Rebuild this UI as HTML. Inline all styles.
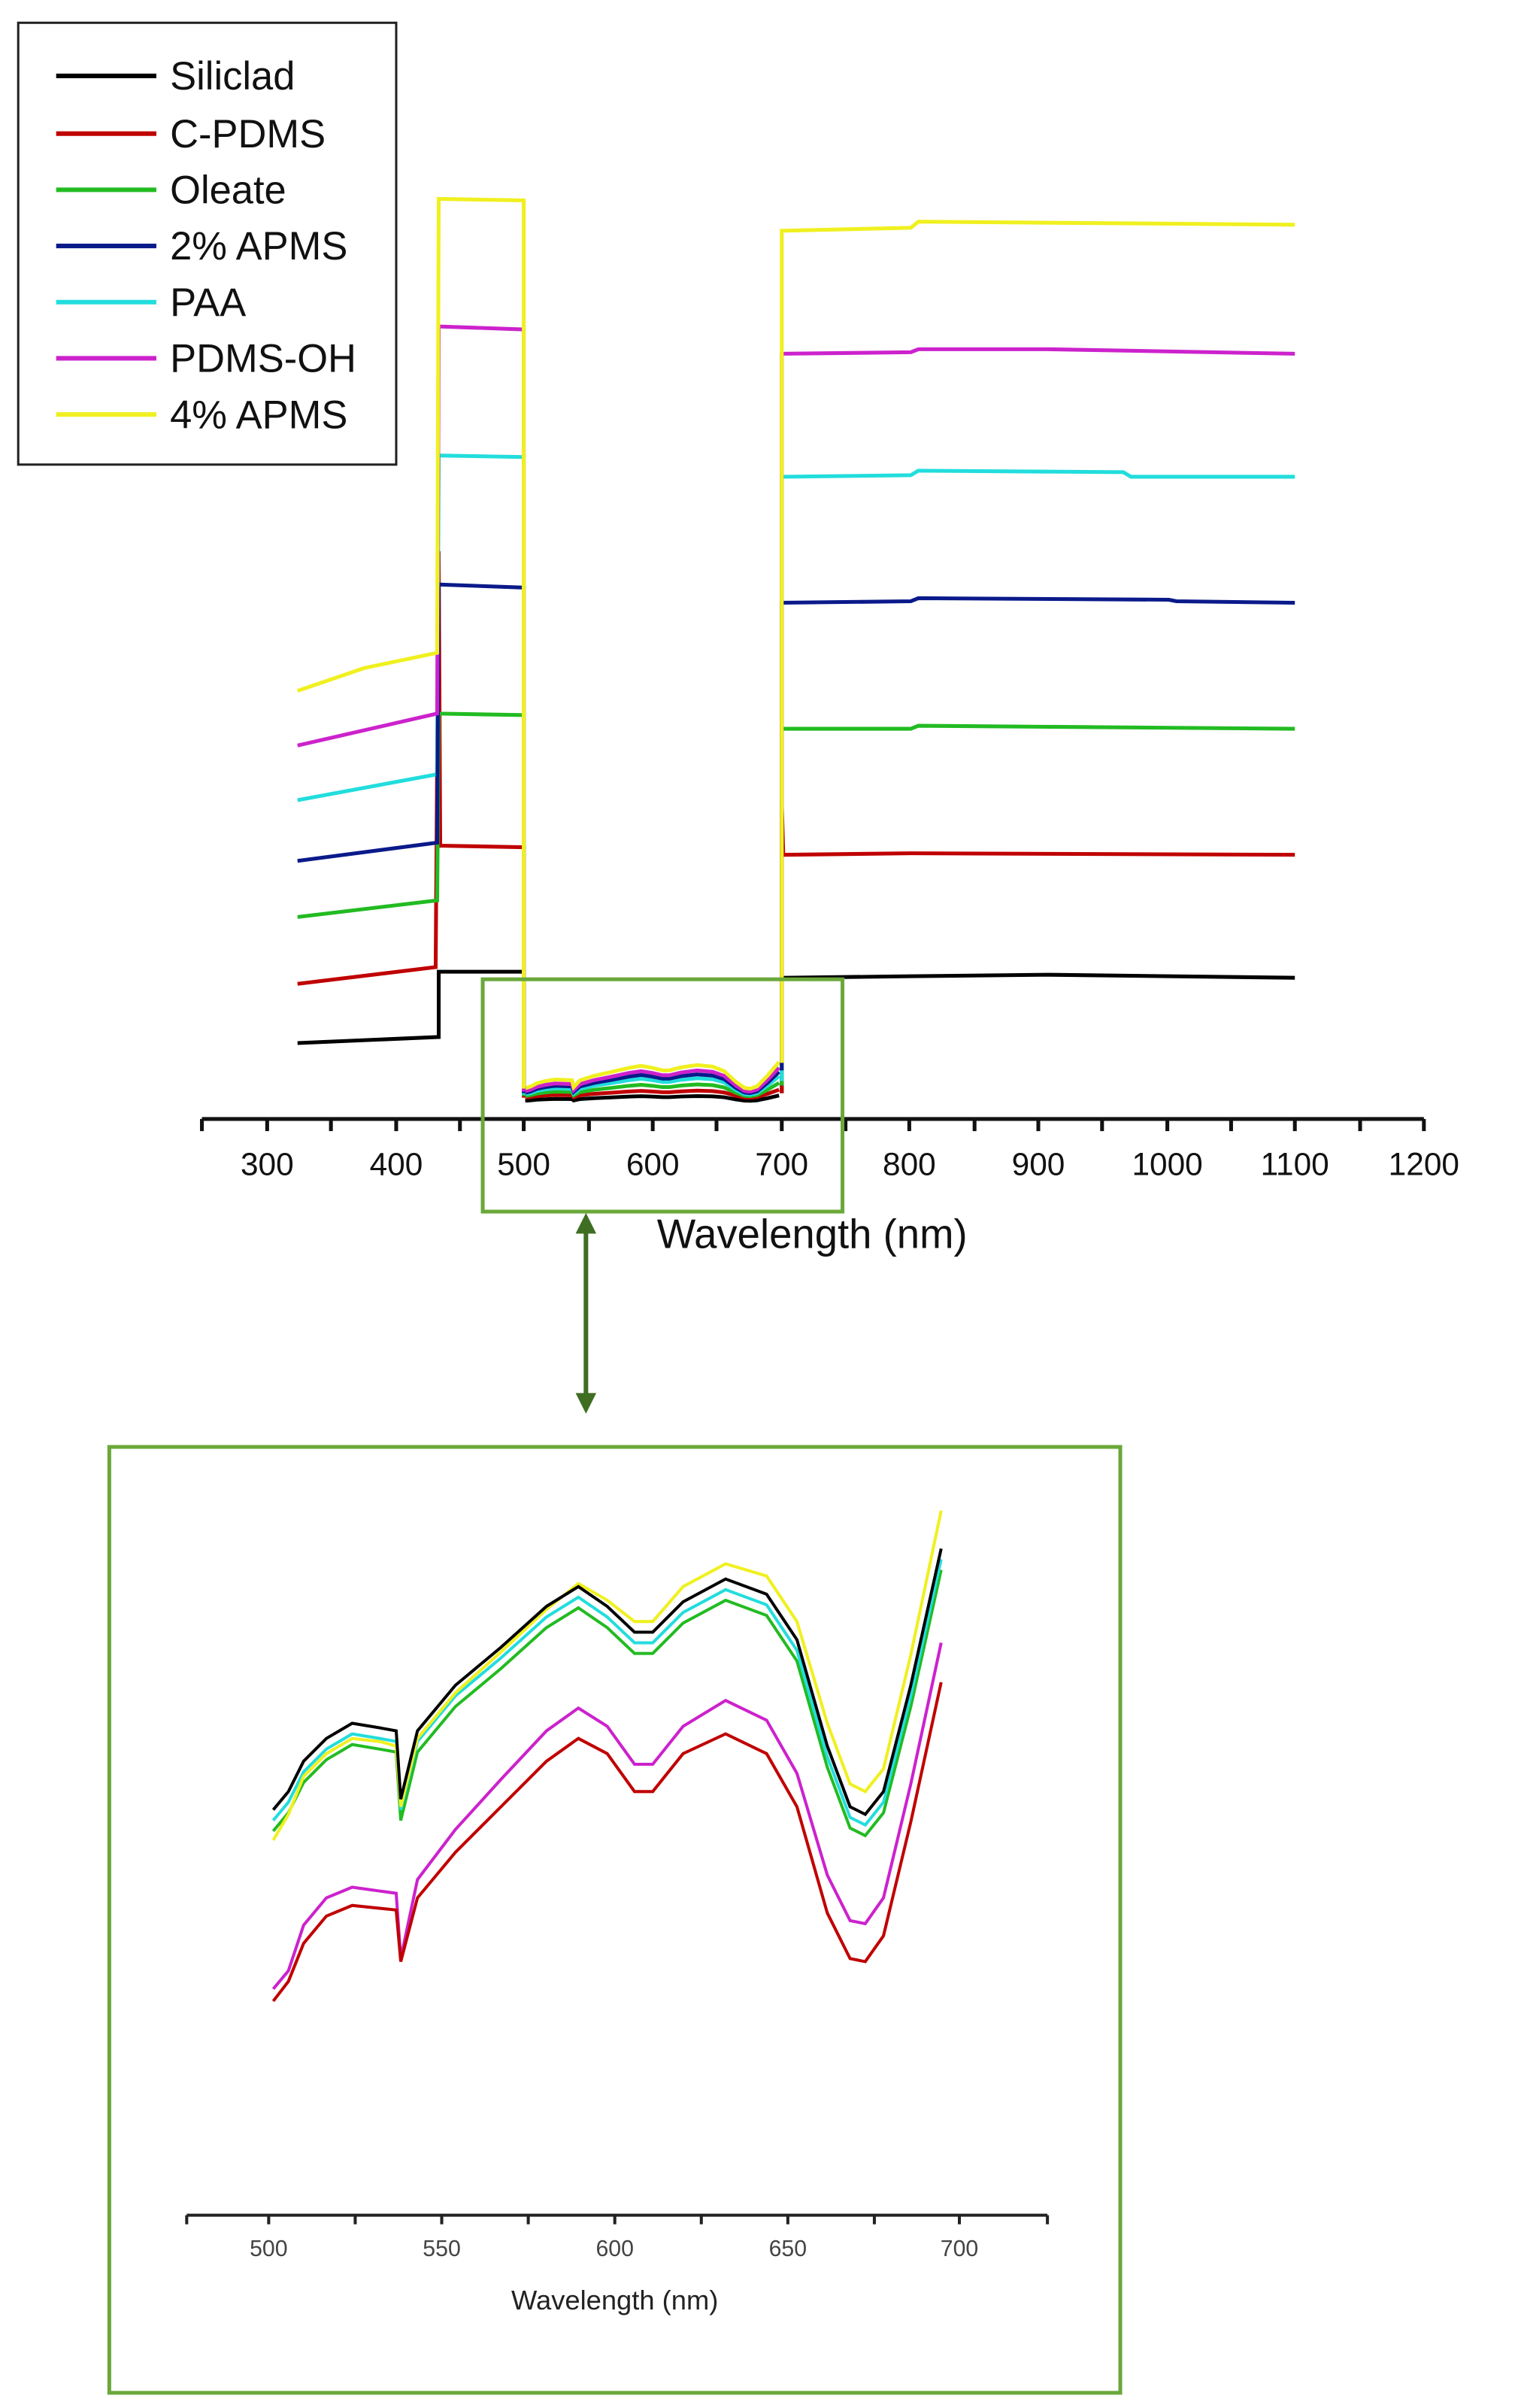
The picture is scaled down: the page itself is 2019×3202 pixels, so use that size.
<!DOCTYPE html>
<html><head><meta charset="utf-8"><style>
html,body{margin:0;padding:0;background:#fff;}
svg{display:block;}
text{font-family:"Liberation Sans",Arial,sans-serif;}
</style></head><body>
<svg width="2019" height="3202" viewBox="0 0 1000 1586" preserveAspectRatio="none" xmlns="http://www.w3.org/2000/svg">
<defs>
<polyline id="shp" fill="none" vector-effect="non-scaling-stroke" points="180,1192 190,1180 200,1160 215,1145 232,1135 250,1138 261,1140 264,1185 275,1140 300,1110 330,1085 360,1058 381,1045 400,1058 418,1075 430,1075 450,1055 478,1040 505,1050 525,1080 545,1150 560,1190 570,1195 582,1180 600,1110 620,1020"/>
</defs>
<!-- legend -->
<rect x="12" y="15" width="249" height="291" fill="#fff" stroke="#222" stroke-width="1.5"/>
<g stroke-width="3">
<line x1="37" y1="50" x2="103" y2="50" stroke="#000"/>
<line x1="37" y1="88" x2="103" y2="88" stroke="#c00000"/>
<line x1="37" y1="125" x2="103" y2="125" stroke="#22bb22"/>
<line x1="37" y1="162" x2="103" y2="162" stroke="#0a1a8a"/>
<line x1="37" y1="199" x2="103" y2="199" stroke="#22dddd"/>
<line x1="37" y1="236" x2="103" y2="236" stroke="#cc22cc"/>
<line x1="37" y1="273" x2="103" y2="273" stroke="#f0f020"/>
</g>
<g font-size="26" fill="#111">
<text x="112" y="59">Siliclad</text>
<text x="112" y="97">C-PDMS</text>
<text x="112" y="134">Oleate</text>
<text x="112" y="171">2% APMS</text>
<text x="112" y="208">PAA</text>
<text x="112" y="245">PDMS-OH</text>
<text x="112" y="282">4% APMS</text>
</g>
<!-- main series -->
<g fill="none" stroke-width="2.5">
<g transform="translate(346,0) scale(0.38,1) translate(-180,0)" stroke-width="5">
<use href="#shp" stroke="#000" transform="translate(0,725) scale(1,0.02) translate(0,-1195)"/>
<use href="#shp" stroke="#c00000" transform="translate(0,723) scale(1,0.03) translate(0,-1195)"/>
<use href="#shp" stroke="#22bb22" transform="translate(0,722) scale(1,0.05) translate(0,-1195)"/>
<use href="#shp" stroke="#22dddd" transform="translate(0,721) scale(1,0.07) translate(0,-1195)"/>
<use href="#shp" stroke="#0a1a8a" transform="translate(0,720) scale(1,0.08) translate(0,-1195)"/>
<use href="#shp" stroke="#cc22cc" transform="translate(0,719) scale(1,0.09) translate(0,-1195)"/>
<use href="#shp" stroke="#f0f020" transform="translate(0,717) scale(1,0.1) translate(0,-1195)"/>
</g>
<polyline stroke="#000" points="196,687 289,683 289,640 345,640 345,722"/>
<polyline stroke="#000" points="515,720 515,644 600,643 690,642 853,644"/>
<polyline stroke="#c00000" points="196,648 287,637 289,363 290,557 345,558 345,723"/>
<polyline stroke="#c00000" points="515,720 515,528 516,563 600,562 853,563"/>
<polyline stroke="#22bb22" points="196,604 288,593 289,470 345,471 345,722"/>
<polyline stroke="#22bb22" points="515,715 515,480 600,480 605,478 853,480"/>
<polyline stroke="#22dddd" points="196,527 288,510 289,300 345,301 345,721"/>
<polyline stroke="#22dddd" points="515,712 515,314 600,313 605,310 740,311 745,314 853,314"/>
<polyline stroke="#0a1a8a" points="196,567 288,555 289,385 345,387 345,720"/>
<polyline stroke="#0a1a8a" points="515,705 515,397 600,396 605,394 770,395 775,396 853,397"/>
<polyline stroke="#cc22cc" points="196,491 288,470 289,215 345,217 345,719"/>
<polyline stroke="#cc22cc" points="515,700 515,233 600,232 605,230 690,230 853,233"/>
<polyline stroke="#f0f020" points="196,455 240,440 288,430 289,131 345,132 345,717"/>
<polyline stroke="#f0f020" points="515,700 515,152 600,150 605,146 853,148"/>
</g>
<!-- main axis -->
<g stroke="#111" stroke-width="2.5">
<line x1="133" y1="737" x2="938" y2="737"/>
<line x1="133" y1="737" x2="133" y2="745"/><line x1="176" y1="737" x2="176" y2="745"/><line x1="218" y1="737" x2="218" y2="745"/><line x1="261" y1="737" x2="261" y2="745"/><line x1="303" y1="737" x2="303" y2="745"/><line x1="345" y1="737" x2="345" y2="745"/><line x1="388" y1="737" x2="388" y2="745"/><line x1="430" y1="737" x2="430" y2="745"/><line x1="472" y1="737" x2="472" y2="745"/><line x1="515" y1="737" x2="515" y2="745"/><line x1="557" y1="737" x2="557" y2="745"/><line x1="599" y1="737" x2="599" y2="745"/><line x1="642" y1="737" x2="642" y2="745"/><line x1="684" y1="737" x2="684" y2="745"/><line x1="726" y1="737" x2="726" y2="745"/><line x1="769" y1="737" x2="769" y2="745"/><line x1="811" y1="737" x2="811" y2="745"/><line x1="853" y1="737" x2="853" y2="745"/><line x1="896" y1="737" x2="896" y2="745"/><line x1="938" y1="737" x2="938" y2="745"/>
</g>
<g font-size="21" fill="#111" text-anchor="middle">
<text x="176" y="774">300</text><text x="261" y="774">400</text><text x="345" y="774">500</text><text x="430" y="774">600</text><text x="515" y="774">700</text><text x="599" y="774">800</text><text x="684" y="774">900</text><text x="769" y="774">1000</text><text x="853" y="774">1100</text><text x="938" y="774">1200</text>
</g>
<text x="535" y="822" font-size="27" fill="#111" text-anchor="middle">Wavelength (nm)</text>
<!-- zoom box and arrow -->
<rect x="318" y="645" width="237" height="153" fill="none" stroke="#6aa83a" stroke-width="2.5"/>
<g stroke="#3f6e22" fill="#3f6e22">
<line x1="386" y1="808" x2="386" y2="922" stroke-width="3"/>
<polygon points="380,812 392,812 386,800"/>
<polygon points="380,918 392,918 386,930"/>
</g>
<!-- inset -->
<rect x="72" y="953" width="666" height="623" fill="none" stroke="#6aa83a" stroke-width="2.5"/>
<g fill="none" stroke-width="2">
<use href="#shp" stroke="#22bb22" stroke-width="4" transform="translate(0,14)"/>
<use href="#shp" stroke="#22dddd" stroke-width="4" transform="translate(0,7)"/>
<polyline stroke="#f0f020" points="180,1212 190,1195 200,1170 215,1155 232,1145 250,1147 261,1150 264,1190 275,1145 300,1115 330,1088 360,1060 381,1043 400,1054 418,1068 430,1068 450,1045 478,1030 505,1038 525,1068 545,1135 560,1175 570,1180 582,1165 600,1090 620,995"/>
<use href="#shp" stroke="#000" stroke-width="4"/>
<polyline stroke="#cc22cc" points="180,1310 190,1298 200,1268 215,1250 232,1243 261,1247 264,1290 275,1238 300,1205 330,1172 360,1140 381,1125 400,1137 418,1162 430,1162 450,1137 478,1120 505,1133 525,1168 545,1235 560,1265 570,1267 582,1250 600,1175 620,1082"/>
<polyline stroke="#c00000" points="180,1318 190,1305 200,1280 215,1262 232,1255 261,1258 264,1292 275,1250 300,1220 330,1190 360,1160 381,1145 400,1155 418,1180 430,1180 450,1155 478,1142 505,1155 525,1190 545,1260 560,1290 570,1292 582,1275 600,1200 620,1108"/>
</g>
<g stroke="#222" stroke-width="2">
<line x1="123" y1="1459" x2="690" y2="1459"/>
<line x1="123" y1="1459" x2="123" y2="1465"/><line x1="177" y1="1459" x2="177" y2="1465"/><line x1="234" y1="1459" x2="234" y2="1465"/><line x1="291" y1="1459" x2="291" y2="1465"/><line x1="348" y1="1459" x2="348" y2="1465"/><line x1="405" y1="1459" x2="405" y2="1465"/><line x1="462" y1="1459" x2="462" y2="1465"/><line x1="519" y1="1459" x2="519" y2="1465"/><line x1="576" y1="1459" x2="576" y2="1465"/><line x1="632" y1="1459" x2="632" y2="1465"/><line x1="690" y1="1459" x2="690" y2="1465"/>
</g>
<g font-size="15" fill="#444" text-anchor="middle">
<text x="177" y="1486">500</text><text x="291" y="1486">550</text><text x="405" y="1486">600</text><text x="519" y="1486">650</text><text x="632" y="1486">700</text>
</g>
<text x="405" y="1521" font-size="18" fill="#222" text-anchor="middle">Wavelength (nm)</text>
</svg>
</body></html>
